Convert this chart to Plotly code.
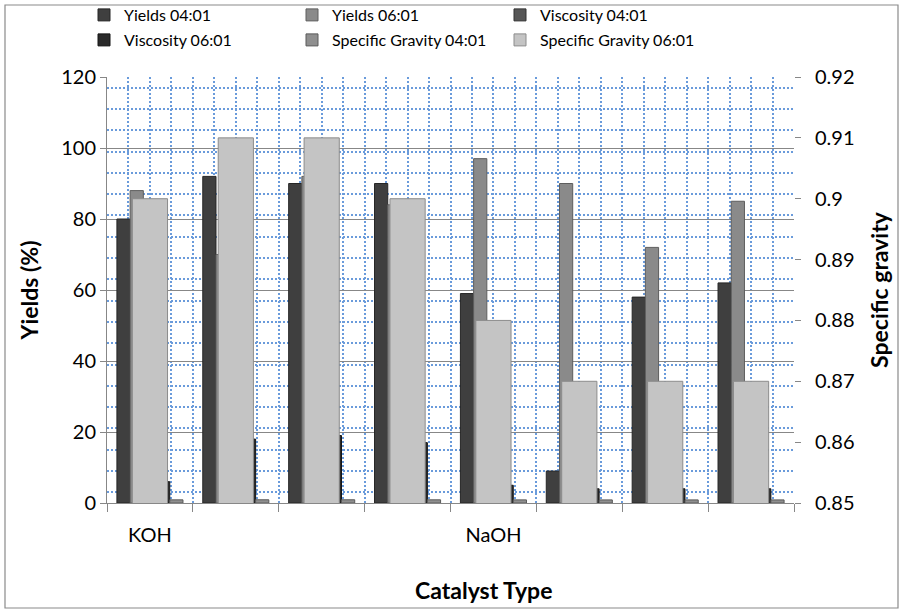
import plotly.graph_objects as go

# Catalyst runs (8 runs, first four KOH, last four NaOH)
categories = ["KOH", "", "", "", "NaOH", "", "", ""]
yields_4 = [80, 92, 90, 90, 59, 9, 58, 62]
yields_6 = [88, 70, 92, 84, 97, 90, 72, 85]
visc_4 = [5.5, 16, 17, 15, 4.5, 4, 4, 3.8]
visc_6 = [6, 18, 19, 17, 5, 4, 4, 4]
sg_4 = [0.89, 0.91, 0.91, 0.90, 0.88, 0.87, 0.87, 0.87]
sg_6 = [0.90, 0.91, 0.91, 0.90, 0.88, 0.87, 0.87, 0.87]

W, H = 903, 614
L, R, T, B = 107, 794, 77, 503   # plot-area edges in pixels
FONT = "Lato"


def px(x):
    return (x - L) / (R - L)


def py(y):
    return (B - y) / (B - T)


xpos = list(range(len(categories)))

# primary cluster: five narrow bars per category, secondary bar centred on top
gap = 1.5
w1 = 1.0 / (5 + gap)
w2 = 0.41

primary = [
    ("Yields 04:01", yields_4, "#3f3f3f", "#262626", "legend"),
    ("Yields 06:01", yields_6, "#8a8a8a", "#5e5e5e", "legend"),
    ("Viscosity 04:01", visc_4, "#575757", "#333333", "legend"),
    ("Viscosity 06:01", visc_6, "#2a2a2a", "#151515", "legend2"),
    ("Specific Gravity 04:01", sg_4, "#8f8f8f", "#5a5a5a", "legend2"),
]

fig = go.Figure()
for i, (name, vals, col, edge, lg) in enumerate(primary):
    fig.add_trace(go.Bar(
        x=xpos, y=vals, name=name, legend=lg,
        width=w1, offset=-2.5 * w1 + i * w1,
        marker=dict(color=col, line=dict(color=edge, width=1)),
        yaxis="y",
    ))

fig.add_trace(go.Bar(
    x=xpos, y=sg_6, name="Specific Gravity 06:01", legend="legend2",
    width=w2, offset=-w2 / 2,
    marker=dict(color="#c4c4c4", line=dict(color="#8c8c8c", width=1)),
    yaxis="y2",
))

quarter = []
qtext = []
for c in xpos:
    for d in (-0.25, 0.0, 0.25):
        quarter.append(c + d)
        qtext.append(categories[c] if d == 0.0 else "")
bounds = [c - 0.5 for c in xpos] + [xpos[-1] + 0.5]

DOT = "#6a9bdb"
DASH = "1.6px,2.4px"
GRID = "#878787"
TICKFONT = dict(family=FONT, size=20, color="#000000")
TITLEFONT = dict(family=FONT, size=23, weight="bold", color="#000000")

legend_common = dict(
    orientation="h", xanchor="left", yanchor="middle",
    entrywidth=163, entrywidthmode="pixels",
    font=dict(family=FONT, size=16, color="#000000"),
    bgcolor="rgba(0,0,0,0)", itemclick=False, tracegroupgap=0,
)

fig.update_layout(
    width=W, height=H,
    margin=dict(l=L, r=W - R, t=T, b=H - B, pad=0, autoexpand=False),
    paper_bgcolor="white", plot_bgcolor="white",
    barmode="overlay",
    showlegend=True,
    font=dict(family=FONT, color="#000000"),
    legend=dict(x=px(84), y=py(15), **legend_common),
    legend2=dict(x=px(84), y=py(40), **legend_common),
    xaxis=dict(
        range=[-0.5, len(categories) - 0.5],
        tickmode="array", tickvals=quarter, ticktext=qtext,
        ticks="", ticklabelstandoff=14,
        tickfont=TICKFONT,
        showgrid=True, gridcolor=DOT, griddash=DASH, gridwidth=1.6,
        minor=dict(tickmode="array", tickvals=bounds, ticks="outside",
                   ticklen=8, tickcolor=GRID, tickwidth=1,
                   showgrid=True, gridcolor=DOT, griddash=DASH,
                   gridwidth=1.6),
        showline=True, linecolor=GRID, linewidth=1,
        zeroline=False,
    ),
    yaxis=dict(
        range=[0, 120], dtick=20, tick0=0,
        ticks="outside", ticklen=6, tickcolor=GRID,
        tickfont=TICKFONT,
        showgrid=True, gridcolor=GRID, gridwidth=1,
        minor=dict(tick0=3, dtick=6, ticks="", showgrid=True,
                   gridcolor=DOT, griddash=DASH, gridwidth=1.6),
        showline=True, linecolor=GRID, linewidth=1,
        zeroline=False,
        title=dict(text="Yields (%)", standoff=16, font=TITLEFONT),
    ),
    yaxis2=dict(
        range=[0.85, 0.92], dtick=0.01, tick0=0.85,
        overlaying="y", side="right",
        ticks="outside", ticklen=6, tickcolor=GRID,
        ticklabelstandoff=10,
        tickfont=TICKFONT,
        showgrid=False, showline=False, zeroline=False,
        title=dict(text="Specific gravity", standoff=18, font=TITLEFONT),
    ),
    annotations=[dict(
        text="<b>Catalyst Type</b>", xref="paper", yref="paper",
        x=px(483), y=py(590), xanchor="center", yanchor="middle",
        showarrow=False, font=dict(family=FONT, size=23, color="#000000"),
    )],
    shapes=[dict(
        type="rect", xref="paper", yref="paper",
        x0=px(5), x1=px(898), y0=py(5), y1=py(608),
        line=dict(color="#8a8a8a", width=1.2), layer="below",
    )],
)

fig.write_html("out.html")
